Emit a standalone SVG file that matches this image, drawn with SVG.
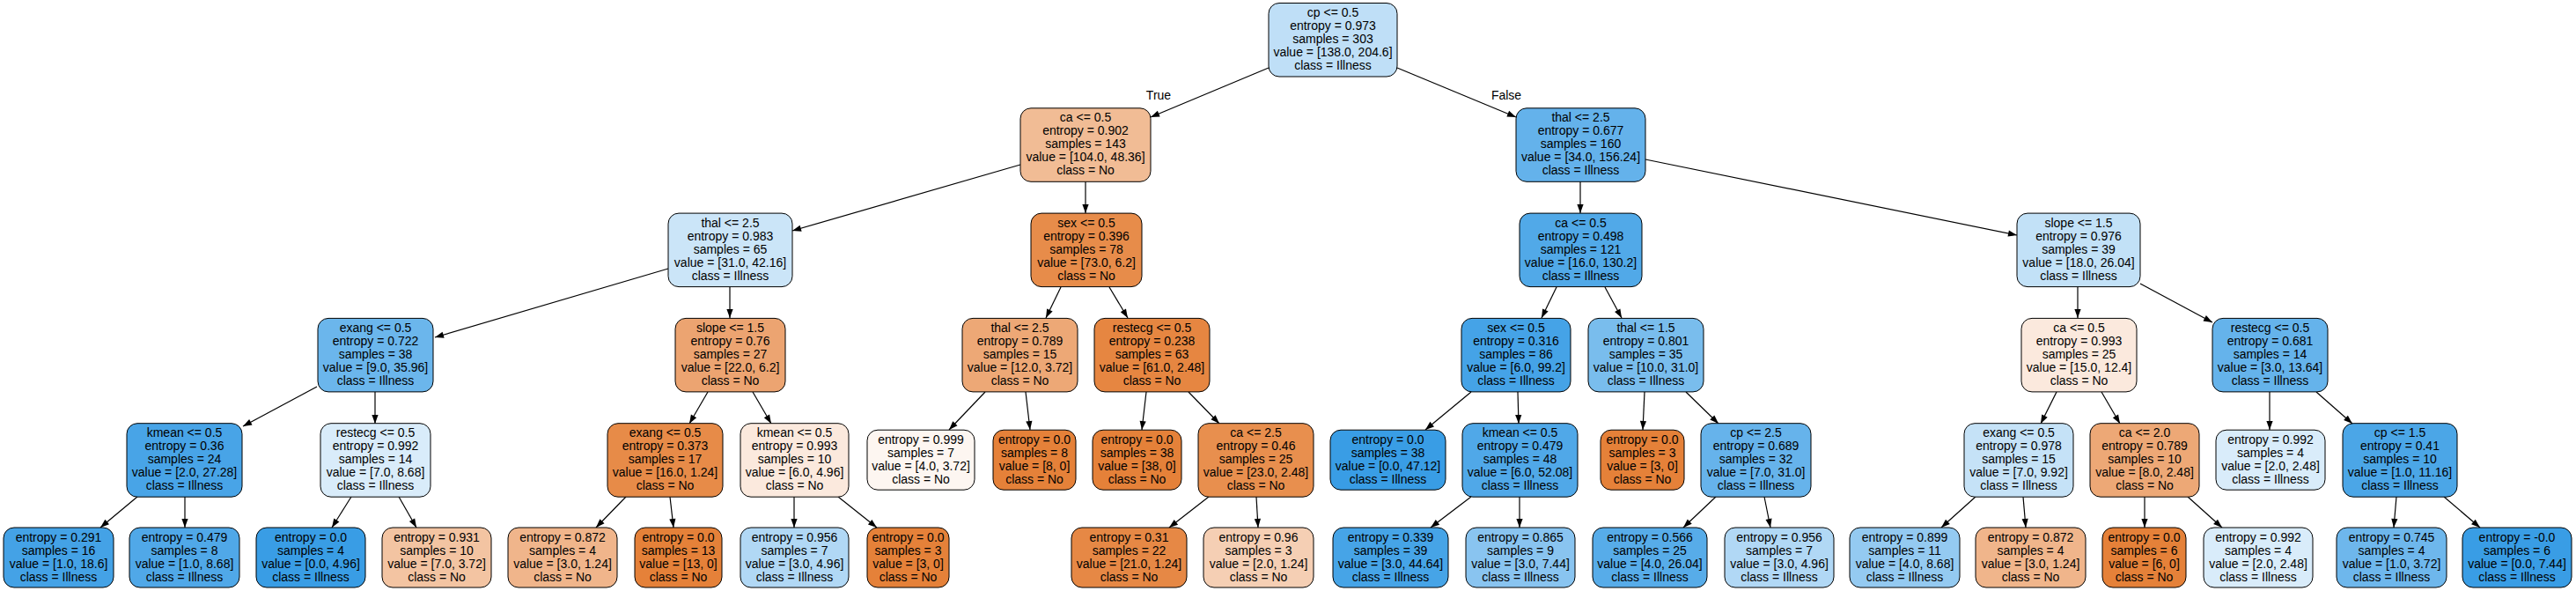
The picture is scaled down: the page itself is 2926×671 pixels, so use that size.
<svg xmlns="http://www.w3.org/2000/svg" width="2926" height="671" viewBox="0 0 2926 671">
<style>
.b{stroke:#000;stroke-width:1}
.t{font-family:"Liberation Sans",Arial,Helvetica,sans-serif;font-size:14px;text-anchor:middle;fill:#000}
.e{stroke:#000;stroke-width:1.2;fill:none;marker-end:url(#ah)}
</style>
<defs>
<marker id="ah" markerUnits="userSpaceOnUse" markerWidth="11" markerHeight="8" viewBox="0 -4 10 8" refX="10" refY="0" orient="auto" overflow="visible">
<path d="M0,-3.6 L10,0 L0,3.6 z" fill="#000"/>
</marker>
</defs>
<rect width="2926" height="671" fill="#fff"/>
<g id="connectors">
<line class="e" x1="1441" y1="77" x2="1307" y2="133"/>
<line class="e" x1="1587" y1="77" x2="1722" y2="133"/>
<line class="e" x1="1159" y1="187" x2="900" y2="262"/>
<line class="e" x1="1233" y1="206" x2="1233" y2="242"/>
<line class="e" x1="1795" y1="206" x2="1795" y2="242"/>
<line class="e" x1="1869" y1="181" x2="2291" y2="267"/>
<line class="e" x1="759" y1="305" x2="494" y2="383"/>
<line class="e" x1="829" y1="326" x2="829" y2="361"/>
<line class="e" x1="1205" y1="326" x2="1188" y2="361"/>
<line class="e" x1="1260" y1="326" x2="1281" y2="361"/>
<line class="e" x1="1768" y1="326" x2="1751" y2="361"/>
<line class="e" x1="1823" y1="326" x2="1842" y2="361"/>
<line class="e" x1="2360" y1="326" x2="2360" y2="361"/>
<line class="e" x1="2431" y1="322" x2="2513" y2="366"/>
<line class="e" x1="360" y1="439" x2="276" y2="484"/>
<line class="e" x1="426" y1="445" x2="426" y2="481"/>
<line class="e" x1="804" y1="445" x2="783" y2="481"/>
<line class="e" x1="855" y1="445" x2="876" y2="481"/>
<line class="e" x1="1119" y1="445" x2="1078" y2="488"/>
<line class="e" x1="1165" y1="445" x2="1170" y2="488"/>
<line class="e" x1="1302" y1="445" x2="1297" y2="488"/>
<line class="e" x1="1350" y1="445" x2="1385" y2="481"/>
<line class="e" x1="1671" y1="445" x2="1619" y2="488"/>
<line class="e" x1="1724" y1="445" x2="1725" y2="481"/>
<line class="e" x1="1868" y1="445" x2="1866" y2="488"/>
<line class="e" x1="1915" y1="445" x2="1952" y2="481"/>
<line class="e" x1="2336" y1="445" x2="2318" y2="481"/>
<line class="e" x1="2387" y1="445" x2="2408" y2="481"/>
<line class="e" x1="2578" y1="445" x2="2578" y2="488"/>
<line class="e" x1="2631" y1="445" x2="2672" y2="481"/>
<line class="e" x1="156" y1="564" x2="114" y2="599"/>
<line class="e" x1="210" y1="564" x2="210" y2="599"/>
<line class="e" x1="399" y1="564" x2="377" y2="599"/>
<line class="e" x1="453" y1="564" x2="473" y2="599"/>
<line class="e" x1="711" y1="564" x2="677" y2="599"/>
<line class="e" x1="761" y1="564" x2="765" y2="599"/>
<line class="e" x1="902" y1="564" x2="902" y2="599"/>
<line class="e" x1="952" y1="564" x2="996" y2="599"/>
<line class="e" x1="1373" y1="564" x2="1328" y2="599"/>
<line class="e" x1="1427" y1="564" x2="1429" y2="599"/>
<line class="e" x1="1671" y1="564" x2="1625" y2="599"/>
<line class="e" x1="1726" y1="564" x2="1726" y2="599"/>
<line class="e" x1="1949" y1="564" x2="1912" y2="599"/>
<line class="e" x1="2004" y1="564" x2="2011" y2="599"/>
<line class="e" x1="2244" y1="564" x2="2205" y2="599"/>
<line class="e" x1="2298" y1="564" x2="2301" y2="599"/>
<line class="e" x1="2436" y1="564" x2="2436" y2="599"/>
<line class="e" x1="2485" y1="564" x2="2524" y2="599"/>
<line class="e" x1="2722" y1="564" x2="2719" y2="599"/>
<line class="e" x1="2776" y1="564" x2="2817" y2="599"/>
<text class="t" x="1316" y="113">True</text>
<text class="t" x="1711" y="113">False</text>
</g>
<g id="n0"><rect class="b" x="1441" y="3.5" width="146" height="83.5" rx="12" fill="#bfdff7"/><text class="t" x="1514" y="19"><tspan x="1514">cp &lt;= 0.5</tspan><tspan x="1514" dy="15">entropy = 0.973</tspan><tspan x="1514" dy="15">samples = 303</tspan><tspan x="1514" dy="15">value = [138.0, 204.6]</tspan><tspan x="1514" dy="15">class = Illness</tspan></text></g>
<g id="n1"><rect class="b" x="1159" y="122.8" width="148" height="83.5" rx="12" fill="#f1bc95"/><text class="t" x="1233" y="138.3"><tspan x="1233">ca &lt;= 0.5</tspan><tspan x="1233" dy="15">entropy = 0.902</tspan><tspan x="1233" dy="15">samples = 143</tspan><tspan x="1233" dy="15">value = [104.0, 48.36]</tspan><tspan x="1233" dy="15">class = No</tspan></text></g>
<g id="n2"><rect class="b" x="1722" y="122.8" width="147" height="83.5" rx="12" fill="#64b2eb"/><text class="t" x="1795.5" y="138.3"><tspan x="1795.5">thal &lt;= 2.5</tspan><tspan x="1795.5" dy="15">entropy = 0.677</tspan><tspan x="1795.5" dy="15">samples = 160</tspan><tspan x="1795.5" dy="15">value = [34.0, 156.24]</tspan><tspan x="1795.5" dy="15">class = Illness</tspan></text></g>
<g id="n3"><rect class="b" x="759" y="242.1" width="141" height="83.5" rx="12" fill="#cbe5f8"/><text class="t" x="829.5" y="257.6"><tspan x="829.5">thal &lt;= 2.5</tspan><tspan x="829.5" dy="15">entropy = 0.983</tspan><tspan x="829.5" dy="15">samples = 65</tspan><tspan x="829.5" dy="15">value = [31.0, 42.16]</tspan><tspan x="829.5" dy="15">class = Illness</tspan></text></g>
<g id="n4"><rect class="b" x="1171" y="242.1" width="126" height="83.5" rx="12" fill="#e78c4a"/><text class="t" x="1234" y="257.6"><tspan x="1234">sex &lt;= 0.5</tspan><tspan x="1234" dy="15">entropy = 0.396</tspan><tspan x="1234" dy="15">samples = 78</tspan><tspan x="1234" dy="15">value = [73.0, 6.2]</tspan><tspan x="1234" dy="15">class = No</tspan></text></g>
<g id="n5"><rect class="b" x="1726" y="242.1" width="139" height="83.5" rx="12" fill="#51a9e8"/><text class="t" x="1795.5" y="257.6"><tspan x="1795.5">ca &lt;= 0.5</tspan><tspan x="1795.5" dy="15">entropy = 0.498</tspan><tspan x="1795.5" dy="15">samples = 121</tspan><tspan x="1795.5" dy="15">value = [16.0, 130.2]</tspan><tspan x="1795.5" dy="15">class = Illness</tspan></text></g>
<g id="n6"><rect class="b" x="2291" y="242.1" width="140" height="83.5" rx="12" fill="#c2e1f7"/><text class="t" x="2361" y="257.6"><tspan x="2361">slope &lt;= 1.5</tspan><tspan x="2361" dy="15">entropy = 0.976</tspan><tspan x="2361" dy="15">samples = 39</tspan><tspan x="2361" dy="15">value = [18.0, 26.04]</tspan><tspan x="2361" dy="15">class = Illness</tspan></text></g>
<g id="n7"><rect class="b" x="361" y="361.4" width="131" height="83.5" rx="12" fill="#6bb6ec"/><text class="t" x="426.5" y="376.9"><tspan x="426.5">exang &lt;= 0.5</tspan><tspan x="426.5" dy="15">entropy = 0.722</tspan><tspan x="426.5" dy="15">samples = 38</tspan><tspan x="426.5" dy="15">value = [9.0, 35.96]</tspan><tspan x="426.5" dy="15">class = Illness</tspan></text></g>
<g id="n8"><rect class="b" x="767" y="361.4" width="125" height="83.5" rx="12" fill="#eca471"/><text class="t" x="829.5" y="376.9"><tspan x="829.5">slope &lt;= 1.5</tspan><tspan x="829.5" dy="15">entropy = 0.76</tspan><tspan x="829.5" dy="15">samples = 27</tspan><tspan x="829.5" dy="15">value = [22.0, 6.2]</tspan><tspan x="829.5" dy="15">class = No</tspan></text></g>
<g id="n9"><rect class="b" x="1093" y="361.4" width="131" height="83.5" rx="12" fill="#eda876"/><text class="t" x="1158.5" y="376.9"><tspan x="1158.5">thal &lt;= 2.5</tspan><tspan x="1158.5" dy="15">entropy = 0.789</tspan><tspan x="1158.5" dy="15">samples = 15</tspan><tspan x="1158.5" dy="15">value = [12.0, 3.72]</tspan><tspan x="1158.5" dy="15">class = No</tspan></text></g>
<g id="n10"><rect class="b" x="1243" y="361.4" width="131" height="83.5" rx="12" fill="#e68641"/><text class="t" x="1308.5" y="376.9"><tspan x="1308.5">restecg &lt;= 0.5</tspan><tspan x="1308.5" dy="15">entropy = 0.238</tspan><tspan x="1308.5" dy="15">samples = 63</tspan><tspan x="1308.5" dy="15">value = [61.0, 2.48]</tspan><tspan x="1308.5" dy="15">class = No</tspan></text></g>
<g id="n11"><rect class="b" x="1660" y="361.4" width="124" height="83.5" rx="12" fill="#45a3e7"/><text class="t" x="1722" y="376.9"><tspan x="1722">sex &lt;= 0.5</tspan><tspan x="1722" dy="15">entropy = 0.316</tspan><tspan x="1722" dy="15">samples = 86</tspan><tspan x="1722" dy="15">value = [6.0, 99.2]</tspan><tspan x="1722" dy="15">class = Illness</tspan></text></g>
<g id="n12"><rect class="b" x="1804" y="361.4" width="131" height="83.5" rx="12" fill="#79bded"/><text class="t" x="1869.5" y="376.9"><tspan x="1869.5">thal &lt;= 1.5</tspan><tspan x="1869.5" dy="15">entropy = 0.801</tspan><tspan x="1869.5" dy="15">samples = 35</tspan><tspan x="1869.5" dy="15">value = [10.0, 31.0]</tspan><tspan x="1869.5" dy="15">class = Illness</tspan></text></g>
<g id="n13"><rect class="b" x="2296" y="361.4" width="131" height="83.5" rx="12" fill="#fbe9dd"/><text class="t" x="2361.5" y="376.9"><tspan x="2361.5">ca &lt;= 0.5</tspan><tspan x="2361.5" dy="15">entropy = 0.993</tspan><tspan x="2361.5" dy="15">samples = 25</tspan><tspan x="2361.5" dy="15">value = [15.0, 12.4]</tspan><tspan x="2361.5" dy="15">class = No</tspan></text></g>
<g id="n14"><rect class="b" x="2513" y="361.4" width="131" height="83.5" rx="12" fill="#65b3eb"/><text class="t" x="2578.5" y="376.9"><tspan x="2578.5">restecg &lt;= 0.5</tspan><tspan x="2578.5" dy="15">entropy = 0.681</tspan><tspan x="2578.5" dy="15">samples = 14</tspan><tspan x="2578.5" dy="15">value = [3.0, 13.64]</tspan><tspan x="2578.5" dy="15">class = Illness</tspan></text></g>
<g id="n15"><rect class="b" x="144" y="480.7" width="131" height="83.5" rx="12" fill="#48a4e7"/><text class="t" x="209.5" y="496.2"><tspan x="209.5">kmean &lt;= 0.5</tspan><tspan x="209.5" dy="15">entropy = 0.36</tspan><tspan x="209.5" dy="15">samples = 24</tspan><tspan x="209.5" dy="15">value = [2.0, 27.28]</tspan><tspan x="209.5" dy="15">class = Illness</tspan></text></g>
<g id="n16"><rect class="b" x="364" y="480.7" width="125" height="83.5" rx="12" fill="#d9ecfa"/><text class="t" x="426.5" y="496.2"><tspan x="426.5">restecg &lt;= 0.5</tspan><tspan x="426.5" dy="15">entropy = 0.992</tspan><tspan x="426.5" dy="15">samples = 14</tspan><tspan x="426.5" dy="15">value = [7.0, 8.68]</tspan><tspan x="426.5" dy="15">class = Illness</tspan></text></g>
<g id="n17"><rect class="b" x="690" y="480.7" width="131" height="83.5" rx="12" fill="#e78b48"/><text class="t" x="755.5" y="496.2"><tspan x="755.5">exang &lt;= 0.5</tspan><tspan x="755.5" dy="15">entropy = 0.373</tspan><tspan x="755.5" dy="15">samples = 17</tspan><tspan x="755.5" dy="15">value = [16.0, 1.24]</tspan><tspan x="755.5" dy="15">class = No</tspan></text></g>
<g id="n18"><rect class="b" x="841" y="480.7" width="123" height="83.5" rx="12" fill="#fbe9dd"/><text class="t" x="902.5" y="496.2"><tspan x="902.5">kmean &lt;= 0.5</tspan><tspan x="902.5" dy="15">entropy = 0.993</tspan><tspan x="902.5" dy="15">samples = 10</tspan><tspan x="902.5" dy="15">value = [6.0, 4.96]</tspan><tspan x="902.5" dy="15">class = No</tspan></text></g>
<g id="n19"><rect class="b" x="985" y="488.2" width="122" height="68" rx="12" fill="#fdf6f1"/><text class="t" x="1046" y="503.7"><tspan x="1046">entropy = 0.999</tspan><tspan x="1046" dy="15">samples = 7</tspan><tspan x="1046" dy="15">value = [4.0, 3.72]</tspan><tspan x="1046" dy="15">class = No</tspan></text></g>
<g id="n20"><rect class="b" x="1128" y="488.2" width="94" height="68" rx="12" fill="#e58139"/><text class="t" x="1175" y="503.7"><tspan x="1175">entropy = 0.0</tspan><tspan x="1175" dy="15">samples = 8</tspan><tspan x="1175" dy="15">value = [8, 0]</tspan><tspan x="1175" dy="15">class = No</tspan></text></g>
<g id="n21"><rect class="b" x="1241" y="488.2" width="101" height="68" rx="12" fill="#e58139"/><text class="t" x="1291.5" y="503.7"><tspan x="1291.5">entropy = 0.0</tspan><tspan x="1291.5" dy="15">samples = 38</tspan><tspan x="1291.5" dy="15">value = [38, 0]</tspan><tspan x="1291.5" dy="15">class = No</tspan></text></g>
<g id="n22"><rect class="b" x="1361" y="480.7" width="131" height="83.5" rx="12" fill="#e88f4e"/><text class="t" x="1426.5" y="496.2"><tspan x="1426.5">ca &lt;= 2.5</tspan><tspan x="1426.5" dy="15">entropy = 0.46</tspan><tspan x="1426.5" dy="15">samples = 25</tspan><tspan x="1426.5" dy="15">value = [23.0, 2.48]</tspan><tspan x="1426.5" dy="15">class = No</tspan></text></g>
<g id="n23"><rect class="b" x="1511" y="488.2" width="131" height="68" rx="12" fill="#399de5"/><text class="t" x="1576.5" y="503.7"><tspan x="1576.5">entropy = 0.0</tspan><tspan x="1576.5" dy="15">samples = 38</tspan><tspan x="1576.5" dy="15">value = [0.0, 47.12]</tspan><tspan x="1576.5" dy="15">class = Illness</tspan></text></g>
<g id="n24"><rect class="b" x="1661" y="480.7" width="131" height="83.5" rx="12" fill="#50a8e8"/><text class="t" x="1726.5" y="496.2"><tspan x="1726.5">kmean &lt;= 0.5</tspan><tspan x="1726.5" dy="15">entropy = 0.479</tspan><tspan x="1726.5" dy="15">samples = 48</tspan><tspan x="1726.5" dy="15">value = [6.0, 52.08]</tspan><tspan x="1726.5" dy="15">class = Illness</tspan></text></g>
<g id="n25"><rect class="b" x="1818" y="488.2" width="95" height="68" rx="12" fill="#e58139"/><text class="t" x="1865.5" y="503.7"><tspan x="1865.5">entropy = 0.0</tspan><tspan x="1865.5" dy="15">samples = 3</tspan><tspan x="1865.5" dy="15">value = [3, 0]</tspan><tspan x="1865.5" dy="15">class = No</tspan></text></g>
<g id="n26"><rect class="b" x="1932" y="480.7" width="125" height="83.5" rx="12" fill="#66b3eb"/><text class="t" x="1994.5" y="496.2"><tspan x="1994.5">cp &lt;= 2.5</tspan><tspan x="1994.5" dy="15">entropy = 0.689</tspan><tspan x="1994.5" dy="15">samples = 32</tspan><tspan x="1994.5" dy="15">value = [7.0, 31.0]</tspan><tspan x="1994.5" dy="15">class = Illness</tspan></text></g>
<g id="n27"><rect class="b" x="2231" y="480.7" width="124" height="83.5" rx="12" fill="#c5e2f7"/><text class="t" x="2293" y="496.2"><tspan x="2293">exang &lt;= 0.5</tspan><tspan x="2293" dy="15">entropy = 0.978</tspan><tspan x="2293" dy="15">samples = 15</tspan><tspan x="2293" dy="15">value = [7.0, 9.92]</tspan><tspan x="2293" dy="15">class = Illness</tspan></text></g>
<g id="n28"><rect class="b" x="2374" y="480.7" width="124" height="83.5" rx="12" fill="#eda876"/><text class="t" x="2436" y="496.2"><tspan x="2436">ca &lt;= 2.0</tspan><tspan x="2436" dy="15">entropy = 0.789</tspan><tspan x="2436" dy="15">samples = 10</tspan><tspan x="2436" dy="15">value = [8.0, 2.48]</tspan><tspan x="2436" dy="15">class = No</tspan></text></g>
<g id="n29"><rect class="b" x="2517" y="488.2" width="124" height="68" rx="12" fill="#d9ecfa"/><text class="t" x="2579" y="503.7"><tspan x="2579">entropy = 0.992</tspan><tspan x="2579" dy="15">samples = 4</tspan><tspan x="2579" dy="15">value = [2.0, 2.48]</tspan><tspan x="2579" dy="15">class = Illness</tspan></text></g>
<g id="n30"><rect class="b" x="2661" y="480.7" width="130" height="83.5" rx="12" fill="#4ba6e7"/><text class="t" x="2726" y="496.2"><tspan x="2726">cp &lt;= 1.5</tspan><tspan x="2726" dy="15">entropy = 0.41</tspan><tspan x="2726" dy="15">samples = 10</tspan><tspan x="2726" dy="15">value = [1.0, 11.16]</tspan><tspan x="2726" dy="15">class = Illness</tspan></text></g>
<g id="n31"><rect class="b" x="4" y="599" width="125" height="68" rx="12" fill="#44a2e6"/><text class="t" x="66.5" y="614.5"><tspan x="66.5">entropy = 0.291</tspan><tspan x="66.5" dy="15">samples = 16</tspan><tspan x="66.5" dy="15">value = [1.0, 18.6]</tspan><tspan x="66.5" dy="15">class = Illness</tspan></text></g>
<g id="n32"><rect class="b" x="147" y="599" width="125" height="68" rx="12" fill="#50a8e8"/><text class="t" x="209.5" y="614.5"><tspan x="209.5">entropy = 0.479</tspan><tspan x="209.5" dy="15">samples = 8</tspan><tspan x="209.5" dy="15">value = [1.0, 8.68]</tspan><tspan x="209.5" dy="15">class = Illness</tspan></text></g>
<g id="n33"><rect class="b" x="291" y="599" width="124" height="68" rx="12" fill="#399de5"/><text class="t" x="353" y="614.5"><tspan x="353">entropy = 0.0</tspan><tspan x="353" dy="15">samples = 4</tspan><tspan x="353" dy="15">value = [0.0, 4.96]</tspan><tspan x="353" dy="15">class = Illness</tspan></text></g>
<g id="n34"><rect class="b" x="434" y="599" width="124" height="68" rx="12" fill="#f3c4a2"/><text class="t" x="496" y="614.5"><tspan x="496">entropy = 0.931</tspan><tspan x="496" dy="15">samples = 10</tspan><tspan x="496" dy="15">value = [7.0, 3.72]</tspan><tspan x="496" dy="15">class = No</tspan></text></g>
<g id="n35"><rect class="b" x="577" y="599" width="124" height="68" rx="12" fill="#f0b58b"/><text class="t" x="639" y="614.5"><tspan x="639">entropy = 0.872</tspan><tspan x="639" dy="15">samples = 4</tspan><tspan x="639" dy="15">value = [3.0, 1.24]</tspan><tspan x="639" dy="15">class = No</tspan></text></g>
<g id="n36"><rect class="b" x="721" y="599" width="99" height="68" rx="12" fill="#e58139"/><text class="t" x="770.5" y="614.5"><tspan x="770.5">entropy = 0.0</tspan><tspan x="770.5" dy="15">samples = 13</tspan><tspan x="770.5" dy="15">value = [13, 0]</tspan><tspan x="770.5" dy="15">class = No</tspan></text></g>
<g id="n37"><rect class="b" x="841" y="599" width="123" height="68" rx="12" fill="#b1d8f5"/><text class="t" x="902.5" y="614.5"><tspan x="902.5">entropy = 0.956</tspan><tspan x="902.5" dy="15">samples = 7</tspan><tspan x="902.5" dy="15">value = [3.0, 4.96]</tspan><tspan x="902.5" dy="15">class = Illness</tspan></text></g>
<g id="n38"><rect class="b" x="985" y="599" width="93" height="68" rx="12" fill="#e58139"/><text class="t" x="1031.5" y="614.5"><tspan x="1031.5">entropy = 0.0</tspan><tspan x="1031.5" dy="15">samples = 3</tspan><tspan x="1031.5" dy="15">value = [3, 0]</tspan><tspan x="1031.5" dy="15">class = No</tspan></text></g>
<g id="n39"><rect class="b" x="1217" y="599" width="131" height="68" rx="12" fill="#e68845"/><text class="t" x="1282.5" y="614.5"><tspan x="1282.5">entropy = 0.31</tspan><tspan x="1282.5" dy="15">samples = 22</tspan><tspan x="1282.5" dy="15">value = [21.0, 1.24]</tspan><tspan x="1282.5" dy="15">class = No</tspan></text></g>
<g id="n40"><rect class="b" x="1367" y="599" width="125" height="68" rx="12" fill="#f5cfb4"/><text class="t" x="1429.5" y="614.5"><tspan x="1429.5">entropy = 0.96</tspan><tspan x="1429.5" dy="15">samples = 3</tspan><tspan x="1429.5" dy="15">value = [2.0, 1.24]</tspan><tspan x="1429.5" dy="15">class = No</tspan></text></g>
<g id="n41"><rect class="b" x="1514" y="599" width="131" height="68" rx="12" fill="#46a4e7"/><text class="t" x="1579.5" y="614.5"><tspan x="1579.5">entropy = 0.339</tspan><tspan x="1579.5" dy="15">samples = 39</tspan><tspan x="1579.5" dy="15">value = [3.0, 44.64]</tspan><tspan x="1579.5" dy="15">class = Illness</tspan></text></g>
<g id="n42"><rect class="b" x="1665" y="599" width="124" height="68" rx="12" fill="#89c4f0"/><text class="t" x="1727" y="614.5"><tspan x="1727">entropy = 0.865</tspan><tspan x="1727" dy="15">samples = 9</tspan><tspan x="1727" dy="15">value = [3.0, 7.44]</tspan><tspan x="1727" dy="15">class = Illness</tspan></text></g>
<g id="n43"><rect class="b" x="1809" y="599" width="130" height="68" rx="12" fill="#57ace9"/><text class="t" x="1874" y="614.5"><tspan x="1874">entropy = 0.566</tspan><tspan x="1874" dy="15">samples = 25</tspan><tspan x="1874" dy="15">value = [4.0, 26.04]</tspan><tspan x="1874" dy="15">class = Illness</tspan></text></g>
<g id="n44"><rect class="b" x="1959" y="599" width="124" height="68" rx="12" fill="#b1d8f5"/><text class="t" x="2021" y="614.5"><tspan x="2021">entropy = 0.956</tspan><tspan x="2021" dy="15">samples = 7</tspan><tspan x="2021" dy="15">value = [3.0, 4.96]</tspan><tspan x="2021" dy="15">class = Illness</tspan></text></g>
<g id="n45"><rect class="b" x="2101" y="599" width="125" height="68" rx="12" fill="#94caf1"/><text class="t" x="2163.5" y="614.5"><tspan x="2163.5">entropy = 0.899</tspan><tspan x="2163.5" dy="15">samples = 11</tspan><tspan x="2163.5" dy="15">value = [4.0, 8.68]</tspan><tspan x="2163.5" dy="15">class = Illness</tspan></text></g>
<g id="n46"><rect class="b" x="2244" y="599" width="125" height="68" rx="12" fill="#f0b58b"/><text class="t" x="2306.5" y="614.5"><tspan x="2306.5">entropy = 0.872</tspan><tspan x="2306.5" dy="15">samples = 4</tspan><tspan x="2306.5" dy="15">value = [3.0, 1.24]</tspan><tspan x="2306.5" dy="15">class = No</tspan></text></g>
<g id="n47"><rect class="b" x="2388" y="599" width="95" height="68" rx="12" fill="#e58139"/><text class="t" x="2435.5" y="614.5"><tspan x="2435.5">entropy = 0.0</tspan><tspan x="2435.5" dy="15">samples = 6</tspan><tspan x="2435.5" dy="15">value = [6, 0]</tspan><tspan x="2435.5" dy="15">class = No</tspan></text></g>
<g id="n48"><rect class="b" x="2503" y="599" width="124" height="68" rx="12" fill="#d9ecfa"/><text class="t" x="2565" y="614.5"><tspan x="2565">entropy = 0.992</tspan><tspan x="2565" dy="15">samples = 4</tspan><tspan x="2565" dy="15">value = [2.0, 2.48]</tspan><tspan x="2565" dy="15">class = Illness</tspan></text></g>
<g id="n49"><rect class="b" x="2654" y="599" width="125" height="68" rx="12" fill="#6eb7ec"/><text class="t" x="2716.5" y="614.5"><tspan x="2716.5">entropy = 0.745</tspan><tspan x="2716.5" dy="15">samples = 4</tspan><tspan x="2716.5" dy="15">value = [1.0, 3.72]</tspan><tspan x="2716.5" dy="15">class = Illness</tspan></text></g>
<g id="n50"><rect class="b" x="2797" y="599" width="124" height="68" rx="12" fill="#399de5"/><text class="t" x="2859" y="614.5"><tspan x="2859">entropy = -0.0</tspan><tspan x="2859" dy="15">samples = 6</tspan><tspan x="2859" dy="15">value = [0.0, 7.44]</tspan><tspan x="2859" dy="15">class = Illness</tspan></text></g>
</svg>
